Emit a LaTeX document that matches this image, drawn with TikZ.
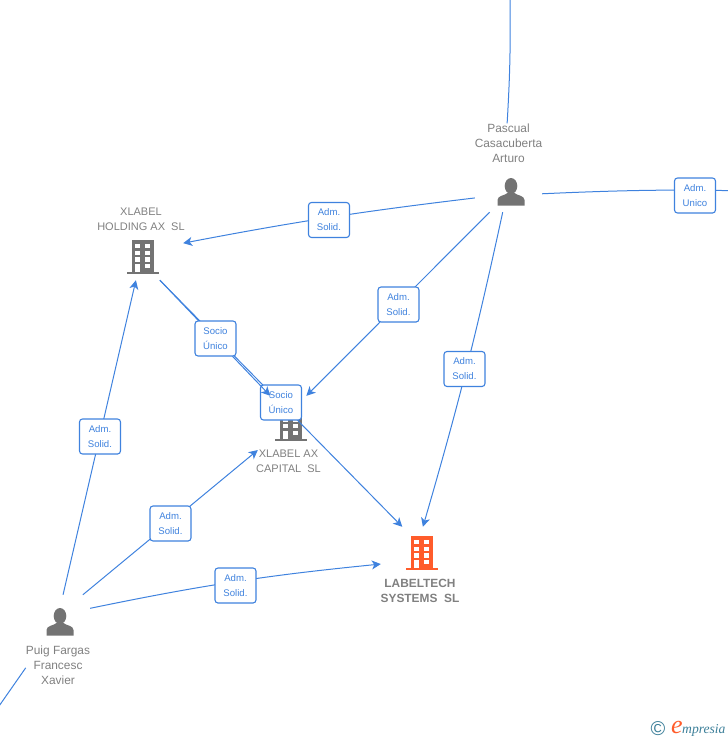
\documentclass[tikz,border=0pt]{standalone}
\usepackage{fontspec}
\setmainfont{Liberation Sans}
\newfontfamily\logofont{Liberation Serif}
\usepackage{xcolor}
\usetikzlibrary{arrows.meta,positioning}
\definecolor{mblue}{HTML}{3F82DE}
\definecolor{mgray}{HTML}{737373}
\definecolor{mtext}{HTML}{808080}
\definecolor{morange}{HTML}{FF5C2B}
\definecolor{mteal}{HTML}{3C7F99}
\tikzstyle{iconbox}=[rectangle, inner sep=0pt]
\tikzstyle{l1}=[line width=1, color=mblue, -{Stealth[length=9pt,width=9pt,inset=2.5pt]}]
\tikzstyle{l2}=[line width=1, color=mblue]
\tikzstyle{lab}=[rectangle, rounded corners=3pt, draw=mblue, line width=1.1, fill=white, text=mblue, minimum width=41pt, minimum height=35pt, inner sep=0pt, align=center, font=\fontsize{9.6}{15}\selectfont]
\tikzstyle{entity}=[text=mtext, inner sep=0pt, align=center, font=\fontsize{11.9}{15}\selectfont]
\tikzstyle{entity1}=[entity, font=\fontsize{11}{15}\selectfont]
\newcommand{\buildingicon}[2]{%
  \begin{scope}[shift={(#1)}]
    \fill[#2] (-11,-17) rectangle (11,15);
    \fill[#2] (-16,15) rectangle (16,17);
    \foreach \y in {-13,-6.3,0.3} {
      \fill[white] (-7.8,\y) rectangle (-2.8,\y+4.4);
      \fill[white] (2.3,\y) rectangle (7.3,\y+4.4);
    }
    \fill[white] (-7.8,7) rectangle (-2.8,15);
    \fill[white] (2.3,7) rectangle (7.3,11.4);
  \end{scope}}
\newcommand{\personicon}[1]{%
  \begin{scope}[shift={(#1)}]
    \fill[mgray] (0,-6) ellipse (6.3 and 8);
    \fill[mgray] (-13.5,13.5) -- (-13.5,8) .. controls (-13.5,3.5) and (-6,3.5) .. (-3.5,1) -- (3.5,1) .. controls (6,3.5) and (13.5,3.5) .. (13.5,8) -- (13.5,13.5) -- cycle;
  \end{scope}}

\begin{document}
\begin{tikzpicture}[x=1pt,y=-1pt]
    \clip (0,0) rectangle (728,740);

    \node[iconbox, minimum width=67pt, minimum height=40pt] (pascual) at (508.5,192) {};
    \node[iconbox, minimum width=80pt, minimum height=46pt] (holding) at (143,257) {};
    \node[iconbox, minimum width=64pt, minimum height=54pt] (capital) at (290,423) {};
    \node[iconbox, minimum width=82pt, minimum height=52pt] (labeltech) at (422,553) {};
    \node[iconbox, minimum width=60pt, minimum height=34pt] (puig) at (60,612) {};
    \coordinate (topend) at (510,0);
    \coordinate (rightend) at (850,196);
    \coordinate (leftend) at (-10,719);

    \personicon{511,192}
    \personicon{60,622}
    \buildingicon{143,257}{mgray}
    \buildingicon{290.5,423.5}{mgray}
    \buildingicon{422,553}{morange}

    \node[entity] (pascualname) at (508.5,143) {Pascual\\Casacuberta\\Arturo};
    \node[entity1] (holdingname) at (141,219) {XLABEL\\HOLDING AX\ \ SL};
    \node[entity1] (capitalname) at (288.5,461.2) {XLABEL AX\\CAPITAL\ \ SL};
    \node[entity, font=\fontsize{11.9}{15}\selectfont\bfseries] (labeltechname) at (420,590.5) {LABELTECH\\SYSTEMS\ \ SL};
    \node[entity] (puigname) at (58,665) {Puig Fargas\\Francesc\\Xavier};

    \draw[l2] (pascualname.94) to[bend right=2] (topend);
    \draw[l2] (pascual.-3.4) to[bend left=3] (rightend);
    \draw[l2] (puigname.185) -- (leftend);

    \draw[l1] (pascual.190) to[bend right=2] (holding.19.3);
    \draw[l1] (pascual.227) -- (capital.59);
    \draw[l1] (pascual.254.6) to[bend left=2] (labeltech.88);
    \draw[l1] (puig.80) -- (holding.253);
    \draw[l1] (puig.37.7) -- (capital.220);
    \draw[l1] (puig.7.6) to[bend left=3] (labeltech.195);
    \draw[l1] (holding.306.5) -- (labeltech.127.6);

    \node[lab] (socio2) at (281,402.5) {Socio\\Único};
    \draw[l1] (holding.306.5) -- (capital.126.5);
    \node[lab] (socio1) at (215.5,338.5) {Socio\\Único};

    \node[lab] (adm1) at (329,220) {Adm.\\Solid.};
    \node[lab] (adm2) at (398.5,304.5) {Adm.\\Solid.};
    \node[lab] (adm3) at (464.5,369) {Adm.\\Solid.};
    \node[lab] (adm4) at (695,195.5) {Adm.\\Unico};
    \node[lab] (adm5) at (100,436.5) {Adm.\\Solid.};
    \node[lab] (adm6) at (170.5,523.5) {Adm.\\Solid.};
    \node[lab] (adm7) at (235.5,585.5) {Adm.\\Solid.};

    % logo
    \node[text=mteal, inner sep=0pt, font=\fontsize{20}{20}\selectfont] (copy) at (658,729) {©};
    \node[text=morange, inner sep=0pt, font=\fontsize{26}{26}\logofont\itshape] (logoe) at (677,727) {e};
    \node[text=mteal, inner sep=0pt, anchor=west, font=\fontsize{13.6}{13.6}\logofont\itshape] (logotext) at (682,730) {mpresia};
\end{tikzpicture}
\end{document}
